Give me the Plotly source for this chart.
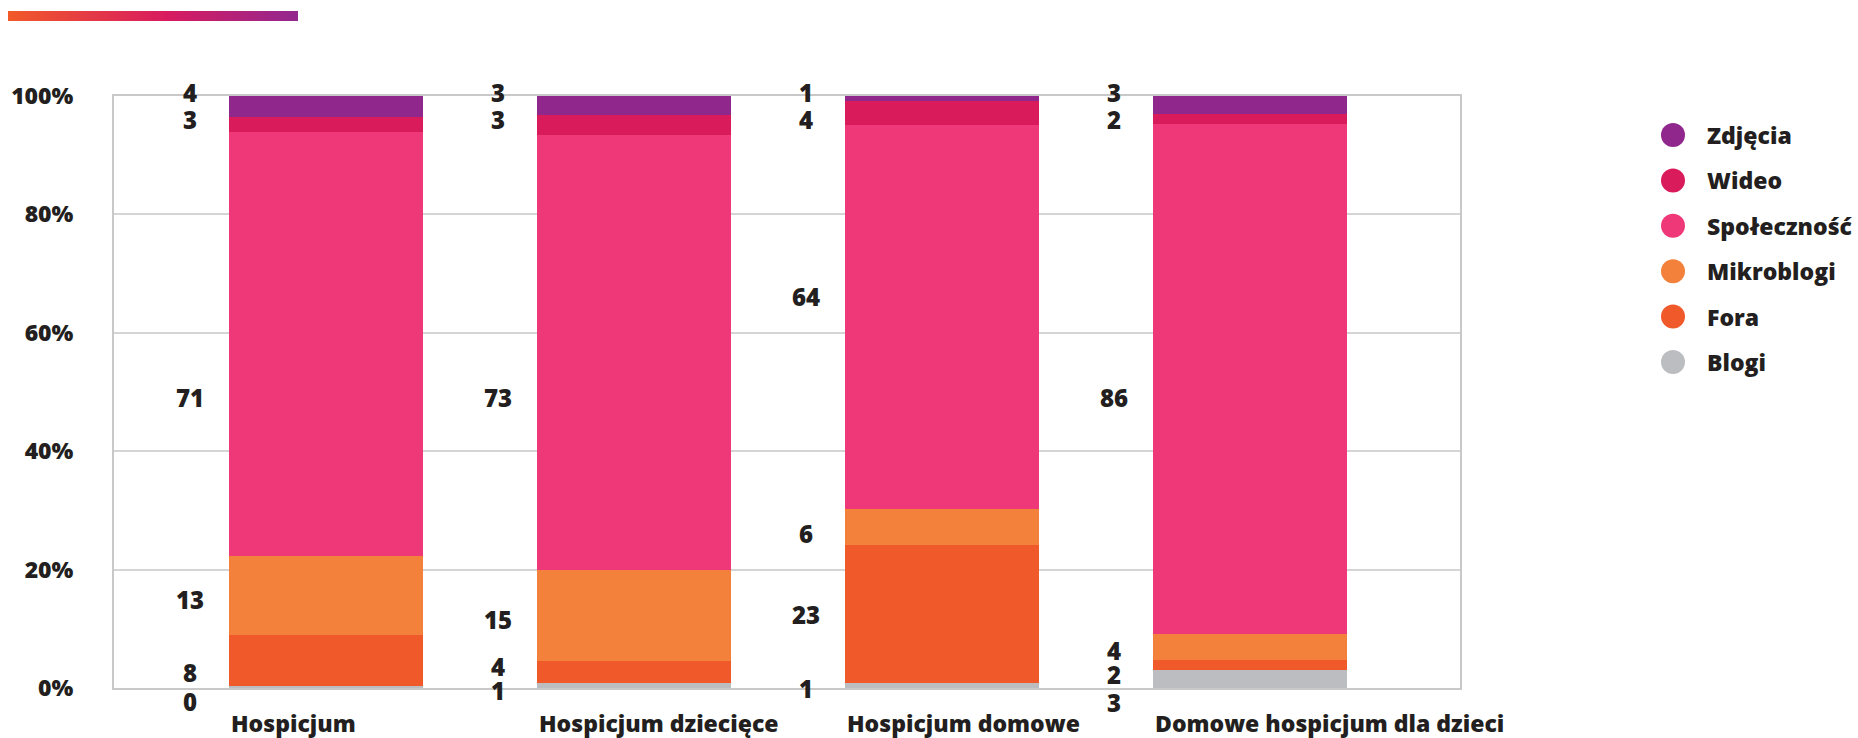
import base64
import plotly.graph_objects as go

# ---- data -------------------------------------------------------------
categories = ["Hospicjum", "Hospicjum dziecięce", "Hospicjum domowe",
              "Domowe hospicjum dla dzieci"]

# stacking order: bottom -> top
series_names = ["Blogi", "Fora", "Mikroblogi", "Społeczność", "Wideo", "Zdjęcia"]

blogi = [0.4, 0.9, 0.9, 3.1]
fora = [8.49, 3.6, 23.1, 1.6]
mikroblogi = [13.4, 15.45, 5.9, 4.4]
spolecznosc = [71.49, 73.3, 64.45, 86.1]
wideo = [2.51, 3.4, 3.9, 1.7]
zdjecia = [3.51, 3.2, 0.9, 3.1]

y_ticks = [0, 20, 40, 60, 80, 100]

# ---- styling ------------------------------------------------------------
colors = {
    "Zdjęcia": "#8F278D",
    "Wideo": "#D91B5C",
    "Społeczność": "#EF3878",
    "Mikroblogi": "#F4813B",
    "Fora": "#F0592A",
    "Blogi": "#BCBDC0",
}
TEXT = "#231F20"
GRID = "#D5D5D5"
FONT = "Open Sans"
WEIGHT = 800

W, H = 1858, 738
L, R, T, B = 114, 398, 96, 50
PW, PH = W - L - R, H - T - B


def px_x(px):
    return (px - L) / PW


def px_y(py):
    return (H - B - py) / PH


values = [blogi, fora, mikroblogi, spolecznosc, wideo, zdjecia]
BAR_W = 0.63

fig = go.Figure()
for name, vals in zip(series_names, values):
    fig.add_trace(go.Bar(
        x=categories, y=vals, name=name, width=BAR_W,
        marker=dict(color=colors[name], line=dict(width=0)),
        showlegend=False,
    ))

# vertical placement of the value labels (percent of axis height), one list
# per category, in the same bottom -> top series order
label_y = [
    [-2.2, 2.6, 14.9, 49.1, 96.0, 100.6],
    [-0.5, 3.6, 11.6, 49.1, 96.0, 100.6],
    [-0.1, 12.5, 26.1, 66.1, 96.0, 100.6],
    [-2.4, 2.2, 6.4, 49.1, 96.0, 100.6],
]

annotations = []
for i, cat in enumerate(categories):
    for s, vals in enumerate(values):
        annotations.append(dict(
            x=i - 0.44, y=label_y[i][s] / 100, xref="x", yref="paper",
            text=f"{vals[i]:.0f}", showarrow=False,
            xanchor="center", yanchor="middle",
            font=dict(family=FONT, size=24, color=TEXT, weight=WEIGHT),
        ))
    # category label, left aligned with the bar
    annotations.append(dict(
        x=i - BAR_W / 2, y=px_y(723), xref="x", yref="paper",
        text=cat, showarrow=False, xanchor="left", yanchor="middle",
        font=dict(family=FONT, size=23, color=TEXT, weight=WEIGHT),
    ))

# custom legend with round markers
shapes = []
legend_order = list(reversed(series_names))
for k, name in enumerate(legend_order):
    cy = 135 + k * 45.4
    shapes.append(dict(
        type="circle", xref="paper", yref="paper",
        xsizemode="pixel", ysizemode="pixel",
        xanchor=px_x(1673), yanchor=px_y(cy),
        x0=-12, x1=12, y0=-12, y1=12,
        fillcolor=colors[name], line=dict(width=0),
    ))
    annotations.append(dict(
        x=px_x(1705), y=px_y(cy), xref="paper", yref="paper",
        text=name, showarrow=False, xanchor="left", yanchor="middle",
        font=dict(family=FONT, size=23, color=TEXT, weight=WEIGHT),
    ))

# decorative gradient strip in the top-left corner
svg = (
    '<svg xmlns="http://www.w3.org/2000/svg" width="290" height="10" '
    'preserveAspectRatio="none">'
    '<defs><linearGradient id="g" x1="0" x2="1" y1="0" y2="0">'
    '<stop offset="0" stop-color="#F15A29"/>'
    '<stop offset="0.55" stop-color="#D81B60"/>'
    '<stop offset="1" stop-color="#92278F"/>'
    '</linearGradient></defs>'
    '<rect width="290" height="10" fill="url(#g)"/></svg>'
)
src = "data:image/svg+xml;base64," + base64.b64encode(svg.encode()).decode()

fig.update_layout(
    width=W, height=H, autosize=False,
    margin=dict(l=L, r=R, t=T, b=B),
    paper_bgcolor="white", plot_bgcolor="white",
    barmode="stack", barnorm="percent",
    showlegend=False,
    annotations=annotations,
    shapes=shapes,
    images=[dict(
        source=src, xref="paper", yref="paper",
        x=px_x(8), y=px_y(11), sizex=290 / PW, sizey=10 / PH,
        xanchor="left", yanchor="top", sizing="stretch", layer="above",
    )],
    xaxis=dict(
        type="category", range=[-0.688, 3.682],
        showticklabels=False, ticks="", showgrid=False,
        showline=True, mirror=True, linecolor="#C8C8C8", linewidth=2,
        zeroline=False, fixedrange=True,
    ),
    yaxis=dict(
        range=[0, 100], tickmode="array", tickvals=y_ticks,
        ticktext=[f"{v}%" for v in y_ticks],
        showgrid=True, gridcolor=GRID, gridwidth=2,
        showline=True, mirror=True, linecolor="#C8C8C8", linewidth=2,
        zeroline=False, ticks="", ticklabelstandoff=34,
        tickfont=dict(family=FONT, size=23, color=TEXT, weight=WEIGHT),
        fixedrange=True,
    ),
)

fig.write_html("out.html")
